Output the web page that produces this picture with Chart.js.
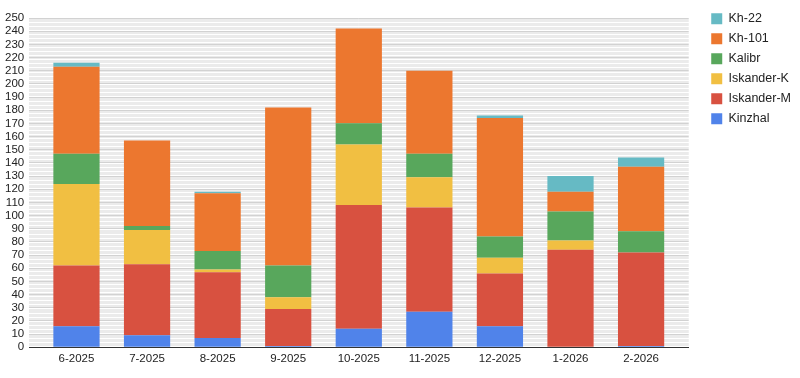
<!DOCTYPE html>
<html>
<head>
<meta charset="utf-8">
<script src="https://cdn.jsdelivr.net/npm/chart.js@4/dist/chart.umd.min.js"></script>
<style>
  html, body { margin: 0; padding: 0; background: #fff; }
  #wrap { width: 800px; height: 378px; }
</style>
</head>
<body>
<div id="wrap"><canvas id="missileChart"></canvas></div>
<script>
const months = ['6-2025', '7-2025', '8-2025', '9-2025', '10-2025', '11-2025', '12-2025', '1-2026', '2-2026'];

const kinzhal    = [16,  9,  7,   1,  14, 27, 16,  0,  1];
const iskanderM  = [46, 54, 50,  28,  94, 79, 40, 74, 71];
const iskanderK  = [62, 26,  2,   9,  46, 23, 12,  7,  0];
const kalibr     = [23,  3, 14,  24,  16, 18, 16, 22, 16];
const kh101      = [66, 65, 44, 120,  72, 63, 90, 15, 49];
const kh22       = [ 3,  0,  1,   0,   0,  0,  2, 12,  7];

const yMax = 250;

function points(arr) {
    return arr.map((v, i) => ({ x: i, y: v }));
}

function series(label, arr, color) {
    return {
        label: label,
        data: points(arr),
        backgroundColor: color,
        borderWidth: 0,
        barPercentage: 0.655,
        categoryPercentage: 1
    };
}

// widen the legend box a bit and nudge it so it sits like the original
const legendNudge = {
    id: 'legendNudge',
    beforeLayout(chart) {
        const lg = chart.legend;
        if (lg && !lg._patched) {
            const fit = lg.fit;
            lg.fit = function() { fit.call(this); this.width += 14; };
            lg._patched = true;
        }
    },
    afterLayout(chart) {
        const lg = chart.legend;
        lg.left += 15; lg.right += 15;
        lg.top -= 13; lg.bottom -= 13;
    }
};

const ctx = document.getElementById('missileChart').getContext('2d');
new Chart(ctx, {
    type: 'bar',
    data: {
        datasets: [
            series('Kinzhal', kinzhal, '#5083ea'),
            series('Iskander-M', iskanderM, '#d85140'),
            series('Iskander-K', iskanderK, '#f1bf42'),
            series('Kalibr', kalibr, '#58a75c'),
            series('Kh-101', kh101, '#ec772f'),
            series('Kh-22', kh22, '#66bac4')
        ]
    },
    plugins: [legendNudge],
    options: {
        responsive: true,
        maintainAspectRatio: false,
        animation: false,
        layout: { padding: { top: 18, right: 0, left: 0, bottom: 7 } },
        plugins: {
            tooltip: { enabled: false },
            legend: {
                position: 'right',
                align: 'start',
                reverse: true,
                labels: {
                    boxWidth: 11,
                    boxHeight: 11,
                    padding: 7.5,
                    color: '#222',
                    font: { family: 'Liberation Sans, Arial, sans-serif', size: 12.5 }
                }
            }
        },
        scales: {
            x: {
                type: 'linear',
                stacked: true,
                offset: false,
                min: -0.67,
                max: 8.675,
                afterBuildTicks: function(scale) {
                    scale.ticks = scale.ticks.filter(t => Number.isInteger(t.value));
                },
                grid: { display: false, drawTicks: false, offset: false },
                border: { display: true, color: '#333', width: 1 },
                ticks: {
                    stepSize: 1,
                    includeBounds: false,
                    autoSkip: false,
                    maxRotation: 0,
                    padding: 5,
                    color: '#222',
                    font: { family: 'Liberation Sans, Arial, sans-serif', size: 11.5 },
                    callback: v => months[v] || ''
                }
            },
            y: {
                stacked: true,
                min: 0,
                max: yMax,
                grid: {
                    drawTicks: false,
                    color: c => (c.tick.value % 10 === 0 ? '#d2d2d2' : '#ebebeb')
                },
                border: { display: false },
                ticks: {
                    stepSize: 1,
                    autoSkip: false,
                    padding: 5,
                    color: '#222',
                    font: { family: 'Liberation Sans, Arial, sans-serif', size: 11.5 },
                    callback: v => (v % 10 === 0 ? v : '')
                }
            }
        }
    }
});
</script>
</body>
</html>
